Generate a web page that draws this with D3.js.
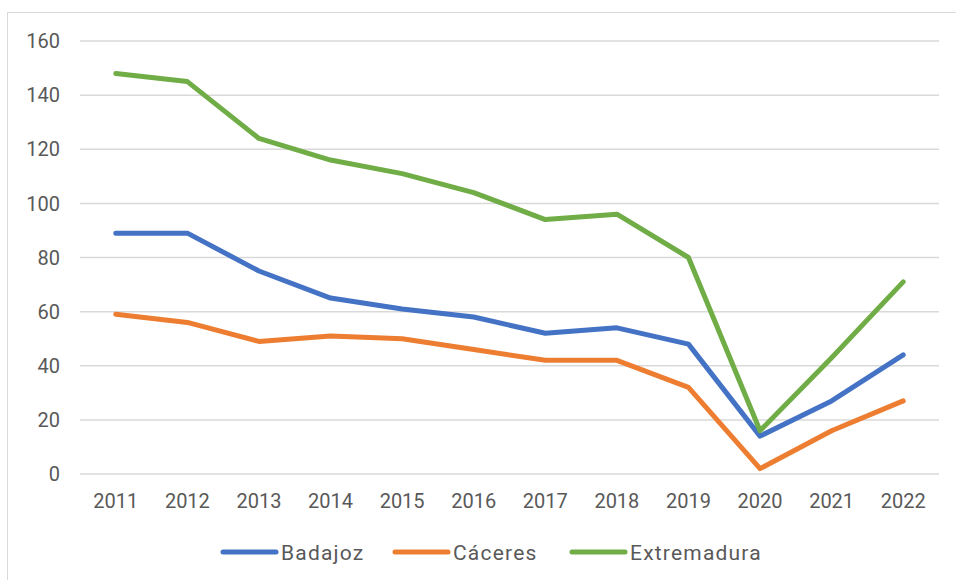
<!DOCTYPE html>
<html>
<head>
<meta charset="utf-8">
<script src="https://cdn.jsdelivr.net/npm/d3@7"></script>
<style>
  body { margin: 0; background: #fff; }
  text { font-family: "Roboto", "Noto Sans", sans-serif; fill: #595959; }
</style>
</head>
<body>
<svg id="chart" width="956" height="580"></svg>
<script>
// data
const years = ["2011","2012","2013","2014","2015","2016","2017","2018","2019","2020","2021","2022"],
    badajoz = [89, 89, 75, 65, 61, 58, 52, 54, 48, 14, 27, 44],
    caceres = [59, 56, 49, 51, 50, 46, 42, 42, 32, 2, 16, 27],
    extremadura = [148, 145, 124, 116, 111, 104, 94, 96, 80, 16, 43, 71],
    yTicks = [0, 20, 40, 60, 80, 100, 120, 140, 160],
    series = [{"name": "Badajoz", "values": badajoz, "color": "#4472c4"},
              {"name": "Cáceres", "values": caceres, "color": "#ed7d31"},
              {"name": "Extremadura", "values": extremadura, "color": "#70ad47"}];

const svg = d3.select("#chart"),
    margin = {left: 80, right: 17, top: 41, bottom: 106},
    width = +svg.attr("width"),
    height = +svg.attr("height");

// chart frame (right and bottom edges fall outside the picture)
svg.append("rect")
    .attr("x", 7.5).attr("y", 12.5)
    .attr("width", 960).attr("height", 600)
    .attr("fill", "none")
    .attr("stroke", "#d9d9d9");

const x = d3.scaleBand()
    .domain(years)
    .range([margin.left, width - margin.right]);

const y = d3.scaleLinear()
    .domain([0, 160])
    .range([height - margin.bottom, margin.top]);

// gridlines
svg.append("g")
  .selectAll("line")
    .data(yTicks)
  .enter().append("line")
    .attr("x1", margin.left).attr("x2", width - margin.right)
    .attr("y1", function(d) { return y(d); })
    .attr("y2", function(d) { return y(d); })
    .attr("stroke", "#d9d9d9")
    .attr("stroke-width", 1.5);

// y labels
svg.append("g")
  .selectAll("text")
    .data(yTicks)
  .enter().append("text")
    .attr("x", 60)
    .attr("y", function(d) { return y(d); })
    .attr("dy", "0.36em")
    .attr("text-anchor", "end")
    .style("font-size", "20px")
    .text(function(d) { return d; });

// x labels
svg.append("g")
  .selectAll("text")
    .data(years)
  .enter().append("text")
    .attr("x", function(d) { return x(d) + x.bandwidth() / 2; })
    .attr("y", 508)
    .attr("text-anchor", "middle")
    .style("font-size", "20px")
    .text(function(d) { return d; });

const line = d3.line()
    .x(function(d, i) { return x(years[i]) + x.bandwidth() / 2; })
    .y(function(d) { return y(d); });

svg.append("g")
  .selectAll("path")
    .data(series)
  .enter().append("path")
    .attr("d", function(d) { return line(d.values); })
    .attr("fill", "none")
    .attr("stroke", function(d) { return d.color; })
    .attr("stroke-width", 5)
    .attr("stroke-linejoin", "round")
    .attr("stroke-linecap", "round");

// legend
const legendX = [223, 395, 572];
const legend = svg.append("g")
  .selectAll("g")
    .data(series)
  .enter().append("g")
    .attr("transform", function(d, i) { return "translate(" + legendX[i] + ",552)"; });

legend.append("line")
    .attr("x1", 0).attr("x2", 53)
    .attr("stroke", function(d) { return d.color; })
    .attr("stroke-width", 5)
    .attr("stroke-linecap", "round");

legend.append("text")
    .attr("x", 58)
    .attr("dy", "0.36em")
    .style("font-size", "21px")
    .style("letter-spacing", "1.2px")
    .text(function(d) { return d.name; });
</script>
</body>
</html>
